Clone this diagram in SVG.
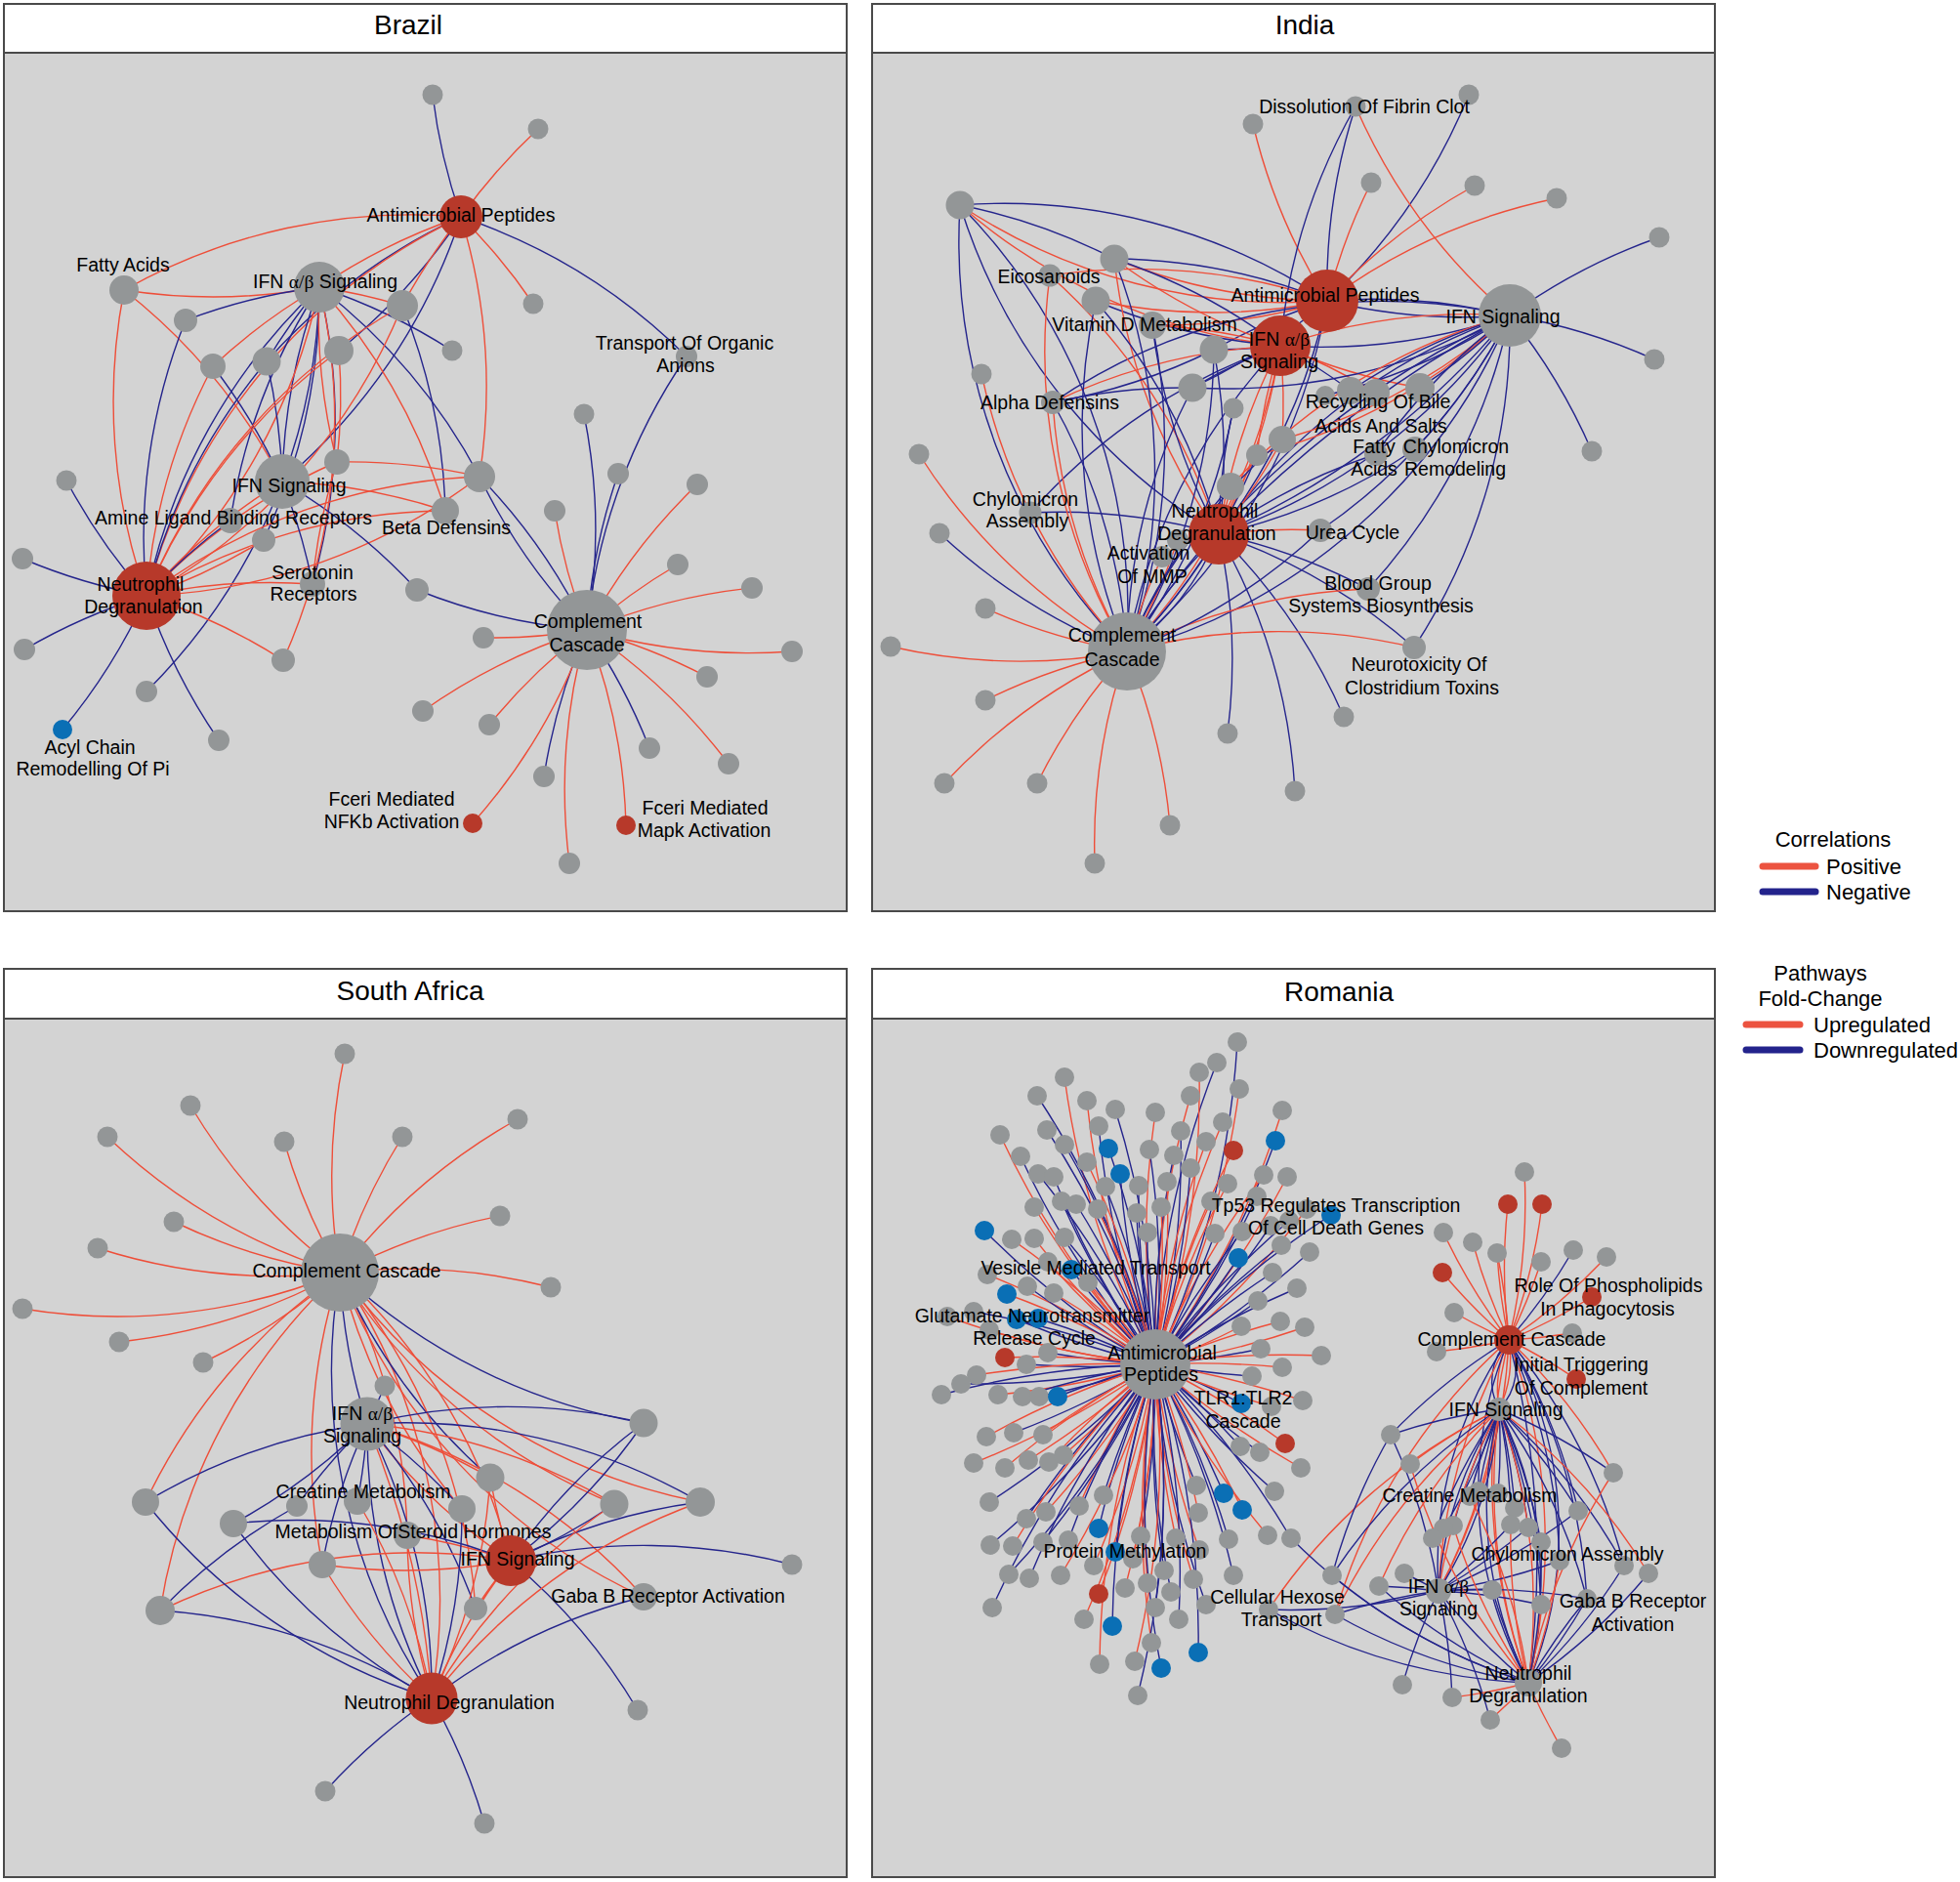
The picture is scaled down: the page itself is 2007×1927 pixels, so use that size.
<svg xmlns="http://www.w3.org/2000/svg" width="2007" height="1927" viewBox="0 0 2007 1927">
<defs>
<style>
.frame{fill:#d3d3d3;stroke:#4a4a4a;stroke-width:2}
.head{fill:#ffffff;stroke:#4a4a4a;stroke-width:2}
.t{font-family:"Liberation Sans",Arial,sans-serif;font-size:28px;text-anchor:middle;fill:#000}
.l{font-family:"Liberation Sans",Arial,sans-serif;font-size:19.5px;text-anchor:middle;fill:#000}
.gk{font-family:"Liberation Serif","Times New Roman",serif}
.lg{font-family:"Liberation Sans",Arial,sans-serif;font-size:22px;fill:#000}
.g{fill:#939697}
.r{fill:#b7392a}
.b{fill:#0a6fb5}
.p{fill:none;stroke:#ee4e39;stroke-width:1.4}
.n{fill:none;stroke:#25258c;stroke-width:1.4}
.lp{stroke:#ec5340;stroke-width:7;stroke-linecap:round}
.ln{stroke:#23238c;stroke-width:7;stroke-linecap:round}
</style>
</defs>
<rect width="2007" height="1927" fill="#ffffff"/>
<g id="panels">
<rect class="frame" x="4" y="54" width="863" height="879"/>
<rect class="head" x="4" y="4" width="863" height="50"/>
<text class="t" x="418" y="35">Brazil</text>
<rect class="frame" x="893" y="54" width="863" height="879"/>
<rect class="head" x="893" y="4" width="863" height="50"/>
<text class="t" x="1336" y="35">India</text>
<rect class="frame" x="4" y="1043" width="863" height="879"/>
<rect class="head" x="4" y="992" width="863" height="51"/>
<text class="t" x="420" y="1024">South Africa</text>
<rect class="frame" x="893" y="1043" width="863" height="879"/>
<rect class="head" x="893" y="992" width="863" height="51"/>
<text class="t" x="1371" y="1025">Romania</text>
</g>
<g id="connectors">
<g id="brazil-edges">
<path class="n" d="M472 222A600 600 0 0 1 443 97"/>
<path class="p" d="M472 222A600 600 0 0 1 551 132"/>
<path class="p" d="M472 222A600 600 0 0 1 546 311"/>
<path class="n" d="M472 222A600 600 0 0 1 703 365"/>
<path class="p" d="M472 222A600 600 0 0 1 491 488"/>
<path class="p" d="M472 222A600 600 0 0 0 327 294"/>
<path class="n" d="M472 222A600 600 0 0 0 273 370"/>
<path class="n" d="M472 222A600 600 0 0 1 347 359"/>
<path class="p" d="M472 222A600 600 0 0 0 412 313"/>
<path class="p" d="M472 222A600 600 0 0 0 150 610"/>
<path class="n" d="M472 222A600 600 0 0 1 289 493"/>
<path class="p" d="M127 297A600 600 0 0 1 472 222"/>
<path class="p" d="M127 297A600 600 0 0 0 327 294"/>
<path class="p" d="M127 297A600 600 0 0 0 150 610"/>
<path class="p" d="M127 297A600 600 0 0 1 289 493"/>
<path class="n" d="M327 294A600 600 0 0 0 190 328"/>
<path class="p" d="M327 294A600 600 0 0 1 412 313"/>
<path class="n" d="M327 294A600 600 0 0 1 463 359"/>
<path class="p" d="M327 294A600 600 0 0 0 218 375"/>
<path class="n" d="M327 294A600 600 0 0 0 273 370"/>
<path class="n" d="M327 294A600 600 0 0 0 289 493"/>
<path class="n" d="M327 294A600 600 0 0 1 289 493"/>
<path class="n" d="M327 294A600 600 0 0 0 150 610"/>
<path class="p" d="M327 294A600 600 0 0 1 150 610"/>
<path class="n" d="M327 294A600 600 0 0 0 236 533"/>
<path class="n" d="M327 294A600 600 0 0 1 270 553"/>
<path class="n" d="M327 294A600 600 0 0 1 320 598"/>
<path class="n" d="M327 294A600 600 0 0 1 491 488"/>
<path class="p" d="M327 294A600 600 0 0 1 456 523"/>
<path class="p" d="M327 294A600 600 0 0 1 290 676"/>
<path class="p" d="M327 294A600 600 0 0 0 345 473"/>
<path class="n" d="M190 328A600 600 0 0 0 150 610"/>
<path class="p" d="M218 375A600 600 0 0 0 150 610"/>
<path class="n" d="M218 375A600 600 0 0 1 289 493"/>
<path class="n" d="M273 370A600 600 0 0 0 150 610"/>
<path class="n" d="M273 370A600 600 0 0 1 289 493"/>
<path class="p" d="M347 359A600 600 0 0 0 150 610"/>
<path class="p" d="M347 359A600 600 0 0 1 345 473"/>
<path class="p" d="M412 313A600 600 0 0 0 150 610"/>
<path class="p" d="M412 313A600 600 0 0 1 150 610"/>
<path class="n" d="M412 313A600 600 0 0 1 456 523"/>
<path class="n" d="M68 492A600 600 0 0 0 150 610"/>
<path class="n" d="M23 572A600 600 0 0 0 150 610"/>
<path class="n" d="M25 665A600 600 0 0 1 150 610"/>
<path class="n" d="M64 747A600 600 0 0 0 150 610"/>
<path class="n" d="M224 758A600 600 0 0 1 150 610"/>
<path class="n" d="M150 708A600 600 0 0 0 289 493"/>
<path class="p" d="M290 676A600 600 0 0 0 150 610"/>
<path class="p" d="M150 610A600 600 0 0 1 320 598"/>
<path class="p" d="M150 610A600 600 0 0 1 456 523"/>
<path class="p" d="M150 610A600 600 0 0 1 491 488"/>
<path class="p" d="M150 610A600 600 0 0 0 491 488"/>
<path class="p" d="M150 610A600 600 0 0 1 345 473"/>
<path class="p" d="M150 610A600 600 0 0 1 289 493"/>
<path class="p" d="M150 610A600 600 0 0 0 270 553"/>
<path class="n" d="M150 610A600 600 0 0 1 236 533"/>
<path class="n" d="M427 604A600 600 0 0 0 289 493"/>
<path class="n" d="M427 604A600 600 0 0 0 601 645"/>
<path class="p" d="M345 473A600 600 0 0 1 491 488"/>
<path class="n" d="M491 488A600 600 0 0 1 601 645"/>
<path class="n" d="M491 488A600 600 0 0 0 601 645"/>
<path class="p" d="M456 523A600 600 0 0 0 289 493"/>
<path class="n" d="M633 485A600 600 0 0 0 601 645"/>
<path class="p" d="M568 523A600 600 0 0 0 601 645"/>
<path class="p" d="M694 578A600 600 0 0 0 601 645"/>
<path class="p" d="M714 496A600 600 0 0 0 601 645"/>
<path class="n" d="M703 365A600 600 0 0 0 601 645"/>
<path class="n" d="M598 424A600 600 0 0 1 601 645"/>
<path class="p" d="M770 602A600 600 0 0 0 601 645"/>
<path class="p" d="M811 667A600 600 0 0 1 601 645"/>
<path class="p" d="M724 693A600 600 0 0 0 601 645"/>
<path class="p" d="M746 782A600 600 0 0 0 601 645"/>
<path class="n" d="M665 766A600 600 0 0 0 601 645"/>
<path class="n" d="M557 795A600 600 0 0 1 601 645"/>
<path class="p" d="M583 884A600 600 0 0 1 601 645"/>
<path class="p" d="M641 845A600 600 0 0 0 601 645"/>
<path class="p" d="M484 843A600 600 0 0 0 601 645"/>
<path class="p" d="M501 742A600 600 0 0 1 601 645"/>
<path class="p" d="M433 728A600 600 0 0 1 601 645"/>
<path class="p" d="M495 653A600 600 0 0 0 601 645"/>
<path class="n" d="M289 493A600 600 0 0 1 320 598"/>
<path class="p" d="M345 473A600 600 0 0 0 320 598"/>
</g>
<g id="india-edges">
<path class="p" d="M1359 308A600 600 0 0 1 1283 127"/>
<path class="n" d="M1359 308A600 600 0 0 1 1388 109"/>
<path class="n" d="M1359 308A600 600 0 0 0 1504 97"/>
<path class="p" d="M1359 308A600 600 0 0 1 1404 187"/>
<path class="p" d="M1359 308A600 600 0 0 1 1510 190"/>
<path class="p" d="M1359 308A600 600 0 0 1 1594 203"/>
<path class="n" d="M1359 308A600 600 0 0 0 983 210"/>
<path class="p" d="M1359 308A600 600 0 0 1 983 210"/>
<path class="n" d="M1359 308A600 600 0 0 0 1141 265"/>
<path class="p" d="M1359 308A600 600 0 0 1 1141 265"/>
<path class="p" d="M1359 308A600 600 0 0 1 1122 308"/>
<path class="p" d="M1359 308A600 600 0 0 0 1075 282"/>
<path class="p" d="M1359 308A600 600 0 0 1 1180 333"/>
<path class="n" d="M1359 308A600 600 0 0 0 1546 323"/>
<path class="n" d="M1359 308A600 600 0 0 1 1546 323"/>
<path class="n" d="M1359 308A600 600 0 0 1 1248 547"/>
<path class="n" d="M1359 308A600 600 0 0 1 1154 667"/>
<path class="n" d="M1359 308A600 600 0 0 1 1221 397"/>
<path class="n" d="M1359 308A600 600 0 0 0 1243 358"/>
<path class="n" d="M1311 354A600 600 0 0 1 1388 109"/>
<path class="p" d="M1311 354A600 600 0 0 1 983 210"/>
<path class="n" d="M1311 354A600 600 0 0 0 1141 265"/>
<path class="p" d="M1311 354A600 600 0 0 1 1141 265"/>
<path class="n" d="M1311 354A600 600 0 0 1 1122 308"/>
<path class="p" d="M1311 354A600 600 0 0 0 1180 333"/>
<path class="n" d="M1311 354A600 600 0 0 1 1243 358"/>
<path class="n" d="M1311 354A600 600 0 0 0 1221 397"/>
<path class="p" d="M1311 354A600 600 0 0 0 1078 412"/>
<path class="n" d="M1311 354A600 600 0 0 0 1546 323"/>
<path class="p" d="M1311 354A600 600 0 0 1 1546 323"/>
<path class="p" d="M1311 354A600 600 0 0 0 1248 547"/>
<path class="p" d="M1311 354A600 600 0 0 1 1248 547"/>
<path class="n" d="M1311 354A600 600 0 0 0 1154 667"/>
<path class="p" d="M1311 354A600 600 0 0 1 1154 667"/>
<path class="n" d="M1311 354A600 600 0 0 1 1383 400"/>
<path class="p" d="M1311 354A600 600 0 0 1 1409 402"/>
<path class="p" d="M1311 354A600 600 0 0 0 1454 397"/>
<path class="p" d="M1311 354A600 600 0 0 1 1313 450"/>
<path class="p" d="M1311 354A600 600 0 0 0 1287 466"/>
<path class="n" d="M1311 354A600 600 0 0 0 1055 525"/>
<path class="n" d="M1546 323A600 600 0 0 1 1699 243"/>
<path class="n" d="M1546 323A600 600 0 0 1 1694 368"/>
<path class="n" d="M1546 323A600 600 0 0 1 1630 462"/>
<path class="p" d="M1546 323A600 600 0 0 1 1388 109"/>
<path class="n" d="M1546 323A600 600 0 0 1 1448 663"/>
<path class="n" d="M1546 323A600 600 0 0 1 1401 603"/>
<path class="n" d="M1546 323A600 600 0 0 1 1248 547"/>
<path class="n" d="M1546 323A600 600 0 0 0 1248 547"/>
<path class="n" d="M1546 323A800 800 0 0 1 1248 547"/>
<path class="n" d="M1546 323A1200 1200 0 0 0 1248 547"/>
<path class="n" d="M1546 323A600 600 0 0 1 1154 667"/>
<path class="n" d="M1546 323A900 900 0 0 0 1154 667"/>
<path class="n" d="M1546 323A600 600 0 0 0 1078 412"/>
<path class="n" d="M1546 323A600 600 0 0 1 1221 397"/>
<path class="p" d="M1546 323A600 600 0 0 1 1313 450"/>
<path class="p" d="M1546 323A600 600 0 0 1 1287 466"/>
<path class="p" d="M1546 323A600 600 0 0 0 1260 498"/>
<path class="n" d="M1546 323A600 600 0 0 1 1449 460"/>
<path class="n" d="M1546 323A600 600 0 0 0 1409 465"/>
<path class="n" d="M1546 323A600 600 0 0 1 1454 397"/>
<path class="n" d="M1546 323A600 600 0 0 0 1383 400"/>
<path class="n" d="M1546 323A600 600 0 0 1 1352 543"/>
<path class="n" d="M1546 323A600 600 0 0 1 1357 405"/>
<path class="n" d="M1248 547A600 600 0 0 1 1257 751"/>
<path class="n" d="M1248 547A600 600 0 0 1 1326 810"/>
<path class="n" d="M1248 547A600 600 0 0 1 1376 734"/>
<path class="n" d="M1248 547A600 600 0 0 1 1401 603"/>
<path class="n" d="M1248 547A600 600 0 0 1 1448 663"/>
<path class="p" d="M1248 547A600 600 0 0 1 1352 543"/>
<path class="n" d="M1248 547A600 600 0 0 0 1055 525"/>
<path class="p" d="M1248 547A600 600 0 0 1 1141 265"/>
<path class="n" d="M1248 547A600 600 0 0 1 983 210"/>
<path class="n" d="M1248 547A600 600 0 0 0 1122 308"/>
<path class="p" d="M1248 547A600 600 0 0 0 1075 282"/>
<path class="n" d="M1248 547A600 600 0 0 1 1180 333"/>
<path class="n" d="M1248 547A600 600 0 0 0 1243 358"/>
<path class="n" d="M1248 547A600 600 0 0 1 1263 418"/>
<path class="p" d="M1248 547A600 600 0 0 0 1313 450"/>
<path class="p" d="M1248 547A600 600 0 0 1 1287 466"/>
<path class="p" d="M1248 547A600 600 0 0 0 1260 498"/>
<path class="n" d="M1248 547A600 600 0 0 0 1449 460"/>
<path class="n" d="M1248 547A600 600 0 0 1 1409 465"/>
<path class="n" d="M1248 547A600 600 0 0 1 1154 667"/>
<path class="n" d="M1248 547A600 600 0 0 0 1154 667"/>
<path class="n" d="M1248 547A300 300 0 0 1 1154 667"/>
<path class="p" d="M1154 667A600 600 0 0 1 912 662"/>
<path class="p" d="M1154 667A600 600 0 0 1 1009 623"/>
<path class="p" d="M1154 667A600 600 0 0 0 1009 717"/>
<path class="p" d="M1154 667A600 600 0 0 0 967 802"/>
<path class="p" d="M1154 667A600 600 0 0 0 1062 802"/>
<path class="p" d="M1154 667A600 600 0 0 0 1121 884"/>
<path class="p" d="M1154 667A600 600 0 0 1 1198 845"/>
<path class="p" d="M1154 667A600 600 0 0 1 941 465"/>
<path class="p" d="M1154 667A600 600 0 0 1 1448 663"/>
<path class="p" d="M1154 667A600 600 0 0 1 1401 603"/>
<path class="n" d="M1154 667A600 600 0 0 1 962 546"/>
<path class="n" d="M1154 667A600 600 0 0 1 983 210"/>
<path class="n" d="M1154 667A600 600 0 0 0 983 210"/>
<path class="n" d="M1154 667A600 600 0 0 0 1141 265"/>
<path class="n" d="M1154 667A600 600 0 0 1 1122 308"/>
<path class="p" d="M1154 667A600 600 0 0 1 1075 282"/>
<path class="p" d="M1154 667A600 600 0 0 1 1005 383"/>
<path class="p" d="M1154 667A600 600 0 0 1 1078 412"/>
<path class="n" d="M1154 667A600 600 0 0 0 1078 412"/>
<path class="n" d="M1154 667A600 600 0 0 0 1180 333"/>
<path class="n" d="M1154 667A600 600 0 0 0 1243 358"/>
<path class="n" d="M1154 667A600 600 0 0 1 1221 397"/>
<path class="n" d="M1154 667A600 600 0 0 0 1263 418"/>
<path class="n" d="M1154 667A600 600 0 0 0 1352 543"/>
<path class="p" d="M1154 667A600 600 0 0 1 1190 570"/>
<path class="p" d="M1154 667A600 600 0 0 0 1206 553"/>
<path class="n" d="M1154 667A600 600 0 0 1 1260 498"/>
<path class="n" d="M1154 667A600 600 0 0 0 1287 466"/>
<path class="n" d="M1154 667A600 600 0 0 1 1313 450"/>
<path class="n" d="M1078 412A600 600 0 0 1 1221 397"/>
<path class="n" d="M1078 412A600 600 0 0 0 1243 358"/>
<path class="n" d="M983 210A600 600 0 0 1 1141 265"/>
</g>
<g id="southafrica-edges">
<path class="p" d="M348 1303A600 600 0 0 1 353 1079"/>
<path class="p" d="M348 1303A600 600 0 0 1 195 1132"/>
<path class="p" d="M348 1303A600 600 0 0 1 110 1164"/>
<path class="p" d="M348 1303A600 600 0 0 1 291 1169"/>
<path class="p" d="M348 1303A600 600 0 0 1 412 1164"/>
<path class="p" d="M348 1303A600 600 0 0 1 530 1146"/>
<path class="p" d="M348 1303A600 600 0 0 1 178 1251"/>
<path class="p" d="M348 1303A600 600 0 0 1 512 1245"/>
<path class="p" d="M348 1303A600 600 0 0 1 100 1278"/>
<path class="p" d="M348 1303A600 600 0 0 1 564 1318"/>
<path class="p" d="M348 1303A600 600 0 0 1 23 1340"/>
<path class="p" d="M348 1303A600 600 0 0 1 122 1374"/>
<path class="p" d="M348 1303A600 600 0 0 1 208 1395"/>
<path class="p" d="M348 1303A600 600 0 0 0 149 1538"/>
<path class="p" d="M348 1303A600 600 0 0 0 164 1649"/>
<path class="n" d="M348 1303A600 600 0 0 0 376 1458"/>
<path class="p" d="M348 1303A600 600 0 0 1 442 1739"/>
<path class="n" d="M348 1303A600 600 0 0 0 442 1739"/>
<path class="p" d="M348 1303A600 600 0 0 0 330 1602"/>
<path class="p" d="M348 1303A600 600 0 0 0 473 1545"/>
<path class="p" d="M348 1303A600 600 0 0 1 417 1572"/>
<path class="n" d="M348 1303A600 600 0 0 0 502 1513"/>
<path class="p" d="M348 1303A600 600 0 0 0 629 1540"/>
<path class="p" d="M348 1303A600 600 0 0 0 659 1635"/>
<path class="p" d="M348 1303A600 600 0 0 0 717 1538"/>
<path class="n" d="M348 1303A600 600 0 0 0 659 1457"/>
<path class="p" d="M348 1303A600 600 0 0 1 523 1598"/>
<path class="p" d="M348 1303A600 600 0 0 1 487 1647"/>
<path class="n" d="M376 1458A600 600 0 0 0 394 1419"/>
<path class="n" d="M376 1458A600 600 0 0 0 149 1538"/>
<path class="n" d="M376 1458A600 600 0 0 1 239 1560"/>
<path class="n" d="M376 1458A600 600 0 0 0 304 1542"/>
<path class="n" d="M376 1458A600 600 0 0 1 366 1537"/>
<path class="n" d="M376 1458A600 600 0 0 1 659 1457"/>
<path class="n" d="M376 1458A600 600 0 0 1 717 1538"/>
<path class="p" d="M376 1458A600 600 0 0 1 629 1540"/>
<path class="p" d="M376 1458A600 600 0 0 1 502 1513"/>
<path class="p" d="M376 1458A600 600 0 0 0 523 1598"/>
<path class="p" d="M376 1458A600 600 0 0 1 659 1635"/>
<path class="n" d="M376 1458A600 600 0 0 1 442 1739"/>
<path class="n" d="M376 1458A600 600 0 0 0 442 1739"/>
<path class="p" d="M376 1458A900 900 0 0 1 442 1739"/>
<path class="n" d="M376 1458A600 600 0 0 1 487 1647"/>
<path class="n" d="M376 1458A600 600 0 0 1 473 1545"/>
<path class="n" d="M376 1458A600 600 0 0 0 330 1602"/>
<path class="n" d="M523 1598A600 600 0 0 1 659 1457"/>
<path class="n" d="M523 1598A600 600 0 0 0 659 1457"/>
<path class="n" d="M523 1598A600 600 0 0 1 717 1538"/>
<path class="n" d="M523 1598A600 600 0 0 0 629 1540"/>
<path class="n" d="M523 1598A600 600 0 0 1 811 1602"/>
<path class="n" d="M523 1598A600 600 0 0 1 653 1751"/>
<path class="p" d="M523 1598A600 600 0 0 0 487 1647"/>
<path class="p" d="M523 1598A600 600 0 0 0 442 1739"/>
<path class="p" d="M523 1598A600 600 0 0 0 417 1572"/>
<path class="p" d="M523 1598A600 600 0 0 1 502 1513"/>
<path class="p" d="M523 1598A600 600 0 0 0 164 1649"/>
<path class="n" d="M523 1598A600 600 0 0 0 239 1560"/>
<path class="p" d="M523 1598A600 600 0 0 1 330 1602"/>
<path class="n" d="M442 1739A600 600 0 0 1 659 1635"/>
<path class="n" d="M442 1739A600 600 0 0 0 333 1834"/>
<path class="n" d="M442 1739A600 600 0 0 1 496 1867"/>
<path class="p" d="M442 1739A600 600 0 0 1 717 1538"/>
<path class="p" d="M442 1739A600 600 0 0 1 629 1540"/>
<path class="p" d="M442 1739A600 600 0 0 0 502 1513"/>
<path class="n" d="M442 1739A600 600 0 0 0 473 1545"/>
<path class="p" d="M442 1739A600 600 0 0 1 417 1572"/>
<path class="p" d="M442 1739A600 600 0 0 0 366 1537"/>
<path class="p" d="M442 1739A600 600 0 0 1 330 1602"/>
<path class="n" d="M442 1739A600 600 0 0 0 164 1649"/>
<path class="n" d="M442 1739A600 600 0 0 1 149 1538"/>
<path class="n" d="M442 1739A600 600 0 0 1 239 1560"/>
<path class="n" d="M164 1649A600 600 0 0 1 304 1542"/>
</g>
<g id="romania-edges">
<path class="n" d="M1183 1397A900 900 0 0 0 1267 1067"/>
<path class="n" d="M1183 1397A900 900 0 0 1 1246 1088"/>
<path class="p" d="M1183 1397A900 900 0 0 0 1228 1098"/>
<path class="p" d="M1183 1397A900 900 0 0 1 1090 1103"/>
<path class="n" d="M1183 1397A900 900 0 0 0 1062 1122"/>
<path class="p" d="M1183 1397A900 900 0 0 1 1219 1122"/>
<path class="p" d="M1183 1397A900 900 0 0 0 1269 1115"/>
<path class="p" d="M1183 1397A900 900 0 0 1 1113 1127"/>
<path class="n" d="M1183 1397A900 900 0 0 0 1142 1136"/>
<path class="p" d="M1183 1397A900 900 0 0 1 1183 1139"/>
<path class="p" d="M1183 1397A900 900 0 0 0 1313 1137"/>
<path class="p" d="M1183 1397A900 900 0 0 1 1024 1162"/>
<path class="n" d="M1183 1397A900 900 0 0 0 1072 1157"/>
<path class="n" d="M1183 1397A900 900 0 0 1 1125 1153"/>
<path class="n" d="M1183 1397A900 900 0 0 0 1209 1158"/>
<path class="p" d="M1183 1397A900 900 0 0 1 1252 1149"/>
<path class="n" d="M1183 1397A900 900 0 0 0 1090 1172"/>
<path class="p" d="M1183 1397A900 900 0 0 1 1235 1169"/>
<path class="n" d="M1183 1397A900 900 0 0 0 1306 1168"/>
<path class="p" d="M1183 1397A900 900 0 0 1 1263 1178"/>
<path class="n" d="M1183 1397A900 900 0 0 0 1135 1176"/>
<path class="n" d="M1183 1397A900 900 0 0 1 1045 1184"/>
<path class="n" d="M1183 1397A900 900 0 0 0 1177 1177"/>
<path class="n" d="M1183 1397A900 900 0 0 1 1202 1183"/>
<path class="p" d="M1183 1397A900 900 0 0 0 1113 1190"/>
<path class="n" d="M1183 1397A900 900 0 0 1 1147 1202"/>
<path class="n" d="M1183 1397A900 900 0 0 0 1063 1202"/>
<path class="n" d="M1183 1397A900 900 0 0 1 1079 1205"/>
<path class="n" d="M1183 1397A900 900 0 0 0 1219 1196"/>
<path class="p" d="M1183 1397A900 900 0 0 1 1294 1203"/>
<path class="p" d="M1183 1397A900 900 0 0 0 1318 1205"/>
<path class="p" d="M1183 1397A900 900 0 0 1 1257 1212"/>
<path class="n" d="M1183 1397A900 900 0 0 0 1132 1215"/>
<path class="n" d="M1183 1397A900 900 0 0 1 1166 1214"/>
<path class="p" d="M1183 1397A900 900 0 0 0 1195 1210"/>
<path class="n" d="M1183 1397A900 900 0 0 1 1087 1230"/>
<path class="n" d="M1183 1397A900 900 0 0 0 1102 1233"/>
<path class="p" d="M1183 1397A900 900 0 0 1 1059 1236"/>
<path class="p" d="M1183 1397A900 900 0 0 0 1124 1238"/>
<path class="n" d="M1183 1397A900 900 0 0 1 1164 1242"/>
<path class="p" d="M1183 1397A900 900 0 0 0 1189 1236"/>
<path class="p" d="M1183 1397A900 900 0 0 1 1240 1230"/>
<path class="n" d="M1183 1397A900 900 0 0 0 1287 1225"/>
<path class="n" d="M1183 1397A900 900 0 0 1 1008 1260"/>
<path class="p" d="M1183 1397A900 900 0 0 0 1036 1269"/>
<path class="p" d="M1183 1397A900 900 0 0 1 1059 1268"/>
<path class="n" d="M1183 1397A900 900 0 0 0 1090 1267"/>
<path class="n" d="M1183 1397A900 900 0 0 1 1175 1262"/>
<path class="n" d="M1183 1397A900 900 0 0 0 1244 1263"/>
<path class="n" d="M1183 1397A900 900 0 0 1 1272 1261"/>
<path class="n" d="M1183 1397A900 900 0 0 0 1301 1255"/>
<path class="n" d="M1183 1397A900 900 0 0 1 1320 1250"/>
<path class="p" d="M1183 1397A900 900 0 0 0 1338 1238"/>
<path class="n" d="M1183 1397A900 900 0 0 1 1363 1244"/>
<path class="n" d="M1183 1397A900 900 0 0 0 1268 1288"/>
<path class="n" d="M1183 1397A900 900 0 0 1 1312 1275"/>
<path class="n" d="M1183 1397A900 900 0 0 0 1341 1282"/>
<path class="p" d="M1183 1397A900 900 0 0 1 1073 1292"/>
<path class="p" d="M1183 1397A900 900 0 0 0 1011 1305"/>
<path class="n" d="M1183 1397A900 900 0 0 1 1097 1300"/>
<path class="p" d="M1183 1397A900 900 0 0 0 1114 1313"/>
<path class="n" d="M1183 1397A900 900 0 0 1 1303 1303"/>
<path class="p" d="M1183 1397A900 900 0 0 0 1031 1325"/>
<path class="n" d="M1183 1397A900 900 0 0 1 1052 1317"/>
<path class="p" d="M1183 1397A900 900 0 0 0 1079 1324"/>
<path class="n" d="M1183 1397A900 900 0 0 1 1328 1319"/>
<path class="n" d="M1183 1397A900 900 0 0 0 1288 1332"/>
<path class="p" d="M1183 1397A900 900 0 0 1 970 1348"/>
<path class="n" d="M1183 1397A900 900 0 0 0 997 1343"/>
<path class="n" d="M1183 1397A900 900 0 0 1 1041 1351"/>
<path class="n" d="M1183 1397A900 900 0 0 0 1063 1350"/>
<path class="p" d="M1183 1397A900 900 0 0 1 1013 1362"/>
<path class="p" d="M1183 1397A900 900 0 0 0 1271 1358"/>
<path class="p" d="M1183 1397A900 900 0 0 1 1311 1353"/>
<path class="p" d="M1183 1397A900 900 0 0 0 1336 1359"/>
<path class="n" d="M1183 1397A900 900 0 0 1 1073 1385"/>
<path class="p" d="M1183 1397A900 900 0 0 0 1029 1390"/>
<path class="n" d="M1183 1397A900 900 0 0 1 1051 1397"/>
<path class="n" d="M1183 1397A900 900 0 0 0 1291 1381"/>
<path class="p" d="M1183 1397A900 900 0 0 1 1313 1400"/>
<path class="n" d="M1183 1397A900 900 0 0 0 1282 1409"/>
<path class="p" d="M1183 1397A900 900 0 0 1 1353 1388"/>
<path class="p" d="M1183 1397A900 900 0 0 0 1000 1408"/>
<path class="n" d="M1183 1397A900 900 0 0 1 984 1417"/>
<path class="n" d="M1183 1397A900 900 0 0 0 964 1428"/>
<path class="p" d="M1183 1397A900 900 0 0 1 1022 1428"/>
<path class="n" d="M1183 1397A900 900 0 0 0 1047 1430"/>
<path class="n" d="M1183 1397A900 900 0 0 1 1064 1430"/>
<path class="n" d="M1183 1397A900 900 0 0 0 1083 1430"/>
<path class="n" d="M1183 1397A900 900 0 0 1 1271 1437"/>
<path class="p" d="M1183 1397A900 900 0 0 0 1302 1440"/>
<path class="p" d="M1183 1397A900 900 0 0 1 1334 1434"/>
<path class="p" d="M1183 1397A900 900 0 0 0 1010 1471"/>
<path class="n" d="M1183 1397A900 900 0 0 1 1038 1467"/>
<path class="p" d="M1183 1397A900 900 0 0 0 1068 1469"/>
<path class="n" d="M1183 1397A900 900 0 0 1 1270 1481"/>
<path class="n" d="M1183 1397A900 900 0 0 0 1290 1487"/>
<path class="p" d="M1183 1397A900 900 0 0 1 1316 1478"/>
<path class="p" d="M1183 1397A900 900 0 0 0 1332 1503"/>
<path class="p" d="M1183 1397A900 900 0 0 1 997 1498"/>
<path class="p" d="M1183 1397A900 900 0 0 0 1029 1503"/>
<path class="p" d="M1183 1397A900 900 0 0 1 1053 1495"/>
<path class="p" d="M1183 1397A900 900 0 0 0 1074 1497"/>
<path class="p" d="M1183 1397A900 900 0 0 1 1089 1490"/>
<path class="n" d="M1183 1397A900 900 0 0 0 1225 1521"/>
<path class="n" d="M1183 1397A900 900 0 0 1 1253 1529"/>
<path class="n" d="M1183 1397A900 900 0 0 0 1130 1531"/>
<path class="p" d="M1183 1397A900 900 0 0 1 1272 1546"/>
<path class="n" d="M1183 1397A900 900 0 0 0 1305 1527"/>
<path class="n" d="M1183 1397A900 900 0 0 1 1013 1538"/>
<path class="p" d="M1183 1397A900 900 0 0 0 1105 1542"/>
<path class="p" d="M1183 1397A900 900 0 0 1 1071 1548"/>
<path class="n" d="M1183 1397A900 900 0 0 0 1051 1555"/>
<path class="p" d="M1183 1397A900 900 0 0 1 1227 1549"/>
<path class="n" d="M1183 1397A900 900 0 0 0 1125 1565"/>
<path class="n" d="M1183 1397A900 900 0 0 1 1014 1582"/>
<path class="p" d="M1183 1397A900 900 0 0 0 1037 1583"/>
<path class="n" d="M1183 1397A900 900 0 0 1 1068 1579"/>
<path class="n" d="M1183 1397A900 900 0 0 0 1094 1577"/>
<path class="n" d="M1183 1397A900 900 0 0 1 1168 1573"/>
<path class="p" d="M1183 1397A900 900 0 0 0 1204 1575"/>
<path class="n" d="M1183 1397A900 900 0 0 1 1258 1576"/>
<path class="p" d="M1183 1397A900 900 0 0 0 1298 1572"/>
<path class="n" d="M1183 1397A900 900 0 0 1 1322 1575"/>
<path class="n" d="M1183 1397A900 900 0 0 0 1142 1589"/>
<path class="p" d="M1183 1397A900 900 0 0 1 1160 1596"/>
<path class="p" d="M1183 1397A900 900 0 0 0 1228 1587"/>
<path class="p" d="M1183 1397A900 900 0 0 1 1120 1603"/>
<path class="n" d="M1183 1397A900 900 0 0 0 1192 1608"/>
<path class="n" d="M1183 1397A900 900 0 0 1 1033 1612"/>
<path class="n" d="M1183 1397A900 900 0 0 0 1054 1616"/>
<path class="p" d="M1183 1397A900 900 0 0 1 1086 1613"/>
<path class="p" d="M1183 1397A900 900 0 0 0 1222 1617"/>
<path class="n" d="M1183 1397A900 900 0 0 1 1263 1613"/>
<path class="p" d="M1183 1397A900 900 0 0 0 1175 1621"/>
<path class="p" d="M1183 1397A900 900 0 0 1 1152 1626"/>
<path class="n" d="M1183 1397A900 900 0 0 0 1199 1630"/>
<path class="p" d="M1183 1397A900 900 0 0 1 1125 1632"/>
<path class="n" d="M1183 1397A900 900 0 0 0 1235 1643"/>
<path class="n" d="M1183 1397A900 900 0 0 1 1183 1646"/>
<path class="n" d="M1183 1397A900 900 0 0 0 1016 1646"/>
<path class="p" d="M1183 1397A900 900 0 0 1 1110 1658"/>
<path class="n" d="M1183 1397A900 900 0 0 0 1139 1665"/>
<path class="n" d="M1183 1397A900 900 0 0 1 1207 1658"/>
<path class="p" d="M1183 1397A900 900 0 0 0 1179 1682"/>
<path class="n" d="M1183 1397A900 900 0 0 1 1227 1692"/>
<path class="p" d="M1183 1397A900 900 0 0 0 1126 1704"/>
<path class="p" d="M1183 1397A900 900 0 0 1 1162 1701"/>
<path class="n" d="M1183 1397A900 900 0 0 0 1189 1708"/>
<path class="n" d="M1183 1397A900 900 0 0 1 1165 1736"/>
<path class="p" d="M1545 1372A600 600 0 0 0 1561 1200"/>
<path class="p" d="M1545 1372A600 600 0 0 1 1544 1233"/>
<path class="p" d="M1545 1372A600 600 0 0 0 1579 1233"/>
<path class="p" d="M1545 1372A600 600 0 0 1 1478 1262"/>
<path class="p" d="M1545 1372A600 600 0 0 1 1508 1272"/>
<path class="p" d="M1545 1372A600 600 0 0 0 1533 1283"/>
<path class="p" d="M1545 1372A600 600 0 0 1 1533 1283"/>
<path class="p" d="M1545 1372A600 600 0 0 0 1578 1292"/>
<path class="n" d="M1545 1372A600 600 0 0 0 1611 1280"/>
<path class="p" d="M1545 1372A600 600 0 0 0 1645 1287"/>
<path class="p" d="M1545 1372A600 600 0 0 1 1477 1303"/>
<path class="p" d="M1545 1372A600 600 0 0 0 1630 1328"/>
<path class="p" d="M1545 1372A600 600 0 0 1 1489 1344"/>
<path class="p" d="M1545 1372A600 600 0 0 0 1610 1365"/>
<path class="p" d="M1545 1372A600 600 0 0 1 1471 1384"/>
<path class="p" d="M1545 1372A600 600 0 0 1 1614 1412"/>
<path class="n" d="M1545 1372A60 60 0 0 0 1535 1443"/>
<path class="n" d="M1545 1372A60 60 0 0 1 1535 1443"/>
<path class="p" d="M1545 1372A120 120 0 0 0 1535 1443"/>
<path class="p" d="M1545 1372A120 120 0 0 1 1535 1443"/>
<path class="p" d="M1545 1372A600 600 0 0 0 1473 1629"/>
<path class="p" d="M1545 1372A600 600 0 0 1 1473 1629"/>
<path class="n" d="M1545 1372A400 400 0 0 0 1473 1629"/>
<path class="p" d="M1545 1372A600 600 0 0 0 1565 1723"/>
<path class="p" d="M1545 1372A600 600 0 0 1 1565 1723"/>
<path class="n" d="M1545 1372A400 400 0 0 0 1565 1723"/>
<path class="n" d="M1545 1372A400 400 0 0 1 1565 1723"/>
<path class="n" d="M1545 1372A900 900 0 0 1 1565 1723"/>
<path class="p" d="M1545 1372A600 600 0 0 1 1652 1508"/>
<path class="n" d="M1545 1372A600 600 0 0 1 1616 1547"/>
<path class="n" d="M1545 1372A600 600 0 0 1 1597 1598"/>
<path class="n" d="M1545 1372A600 600 0 0 1 1663 1603"/>
<path class="n" d="M1545 1372A600 600 0 0 1 1625 1637"/>
<path class="n" d="M1545 1372A600 600 0 0 0 1424 1469"/>
<path class="p" d="M1545 1372A600 600 0 0 0 1367 1653"/>
<path class="n" d="M1535 1443A600 600 0 0 0 1424 1469"/>
<path class="p" d="M1535 1443A600 600 0 0 0 1444 1499"/>
<path class="n" d="M1535 1443A600 600 0 0 0 1514 1527"/>
<path class="n" d="M1535 1443A600 600 0 0 1 1534 1529"/>
<path class="n" d="M1535 1443A600 600 0 0 0 1505 1532"/>
<path class="n" d="M1535 1443A600 600 0 0 0 1488 1562"/>
<path class="n" d="M1535 1443A600 600 0 0 1 1478 1565"/>
<path class="n" d="M1535 1443A600 600 0 0 0 1467 1575"/>
<path class="n" d="M1535 1443A600 600 0 0 1 1547 1561"/>
<path class="n" d="M1535 1443A600 600 0 0 1 1565 1564"/>
<path class="n" d="M1535 1443A600 600 0 0 1 1578 1579"/>
<path class="n" d="M1535 1443A600 600 0 0 1 1551 1544"/>
<path class="n" d="M1535 1443A600 600 0 0 1 1616 1547"/>
<path class="n" d="M1535 1443A600 600 0 0 1 1652 1508"/>
<path class="p" d="M1535 1443A600 600 0 0 0 1473 1629"/>
<path class="p" d="M1535 1443A600 600 0 0 1 1473 1629"/>
<path class="n" d="M1535 1443A400 400 0 0 0 1473 1629"/>
<path class="n" d="M1535 1443A400 400 0 0 1 1473 1629"/>
<path class="p" d="M1535 1443A600 600 0 0 0 1565 1723"/>
<path class="p" d="M1535 1443A600 600 0 0 1 1565 1723"/>
<path class="n" d="M1535 1443A400 400 0 0 0 1565 1723"/>
<path class="n" d="M1535 1443A400 400 0 0 1 1565 1723"/>
<path class="n" d="M1535 1443A600 600 0 0 1 1663 1603"/>
<path class="p" d="M1535 1443A600 600 0 0 1 1688 1611"/>
<path class="n" d="M1535 1443A600 600 0 0 1 1625 1637"/>
<path class="n" d="M1535 1443A600 600 0 0 1 1578 1643"/>
<path class="p" d="M1535 1443A600 600 0 0 0 1412 1624"/>
<path class="n" d="M1535 1443A600 600 0 0 0 1364 1613"/>
<path class="p" d="M1535 1443A600 600 0 0 0 1299 1648"/>
<path class="p" d="M1535 1443A600 600 0 0 0 1367 1653"/>
<path class="n" d="M1473 1629A600 600 0 0 0 1412 1624"/>
<path class="n" d="M1473 1629A600 600 0 0 0 1438 1611"/>
<path class="n" d="M1473 1629A600 600 0 0 1 1528 1628"/>
<path class="n" d="M1473 1629A600 600 0 0 1 1578 1643"/>
<path class="n" d="M1473 1629A600 600 0 0 0 1597 1598"/>
<path class="n" d="M1473 1629A600 600 0 0 0 1616 1547"/>
<path class="n" d="M1473 1629A600 600 0 0 0 1547 1561"/>
<path class="n" d="M1473 1629A600 600 0 0 0 1565 1564"/>
<path class="n" d="M1473 1629A600 600 0 0 1 1625 1637"/>
<path class="n" d="M1473 1629A600 600 0 0 0 1436 1725"/>
<path class="n" d="M1473 1629A600 600 0 0 1 1487 1738"/>
<path class="n" d="M1473 1629A600 600 0 0 0 1367 1653"/>
<path class="n" d="M1473 1629A600 600 0 0 1 1299 1648"/>
<path class="n" d="M1473 1629A600 600 0 0 0 1424 1469"/>
<path class="n" d="M1473 1629A600 600 0 0 0 1565 1723"/>
<path class="n" d="M1473 1629A600 600 0 0 1 1526 1761"/>
<path class="p" d="M1565 1723A600 600 0 0 0 1599 1790"/>
<path class="p" d="M1565 1723A600 600 0 0 1 1526 1761"/>
<path class="p" d="M1565 1723A600 600 0 0 1 1487 1738"/>
<path class="n" d="M1565 1723A600 600 0 0 0 1625 1637"/>
<path class="n" d="M1565 1723A600 600 0 0 1 1625 1637"/>
<path class="n" d="M1565 1723A600 600 0 0 0 1688 1611"/>
<path class="n" d="M1565 1723A600 600 0 0 0 1663 1603"/>
<path class="p" d="M1565 1723A600 600 0 0 1 1652 1508"/>
<path class="p" d="M1565 1723A600 600 0 0 0 1578 1643"/>
<path class="n" d="M1565 1723A600 600 0 0 1 1528 1628"/>
<path class="p" d="M1565 1723A600 600 0 0 0 1597 1598"/>
<path class="p" d="M1565 1723A600 600 0 0 1 1444 1499"/>
<path class="n" d="M1565 1723A600 600 0 0 1 1412 1624"/>
<path class="n" d="M1565 1723A600 600 0 0 1 1367 1653"/>
<path class="n" d="M1565 1723A600 600 0 0 1 1299 1648"/>
<path class="n" d="M1565 1723A600 600 0 0 1 1322 1575"/>
<path class="n" d="M1565 1723A600 600 0 0 1 1364 1613"/>
<path class="p" d="M1565 1723A600 600 0 0 1 1488 1562"/>
<path class="p" d="M1565 1723A600 600 0 0 0 1505 1532"/>
<path class="n" d="M1565 1723A600 600 0 0 0 1578 1579"/>
<path class="p" d="M1565 1723A600 600 0 0 1 1547 1561"/>
<path class="n" d="M1424 1469A600 600 0 0 0 1364 1613"/>
</g>
</g>
<g id="brazil-nodes">
<g id="br-n1"><circle class="g" cx="443" cy="97" r="10.5"/></g>
<g id="br-n2"><circle class="g" cx="551" cy="132" r="10.5"/></g>
<g id="br-n4"><circle class="g" cx="412" cy="313" r="16"/></g>
<g id="br-n5"><circle class="g" cx="546" cy="311" r="10.5"/></g>
<g id="br-n6"><circle class="g" cx="190" cy="328" r="12"/></g>
<g id="br-n7"><circle class="g" cx="463" cy="359" r="10.5"/></g>
<g id="br-n8"><circle class="g" cx="218" cy="375" r="13"/></g>
<g id="br-n9"><circle class="g" cx="273" cy="370" r="14.5"/></g>
<g id="br-n10"><circle class="g" cx="347" cy="359" r="15"/></g>
<g id="br-n11"><circle class="g" cx="598" cy="424" r="10.5"/></g>
<g id="br-n13"><circle class="g" cx="68" cy="492" r="10.5"/></g>
<g id="br-n14"><circle class="g" cx="345" cy="473" r="13"/></g>
<g id="br-n15"><circle class="g" cx="491" cy="488" r="16"/></g>
<g id="br-n18"><circle class="g" cx="270" cy="553" r="12"/></g>
<g id="br-n19"><circle class="g" cx="633" cy="485" r="11"/></g>
<g id="br-n20"><circle class="g" cx="714" cy="496" r="11"/></g>
<g id="br-n21"><circle class="g" cx="568" cy="523" r="11"/></g>
<g id="br-n22"><circle class="g" cx="23" cy="572" r="11"/></g>
<g id="br-n24"><circle class="g" cx="427" cy="604" r="12"/></g>
<g id="br-n25"><circle class="g" cx="694" cy="578" r="11"/></g>
<g id="br-n26"><circle class="g" cx="770" cy="602" r="11"/></g>
<g id="br-n27"><circle class="g" cx="495" cy="653" r="11"/></g>
<g id="br-n28"><circle class="g" cx="25" cy="665" r="11"/></g>
<g id="br-n29"><circle class="g" cx="290" cy="676" r="12"/></g>
<g id="br-n30"><circle class="g" cx="811" cy="667" r="11"/></g>
<g id="br-n31"><circle class="g" cx="724" cy="693" r="11"/></g>
<g id="br-n32"><circle class="g" cx="150" cy="708" r="11"/></g>
<g id="br-n33"><circle class="g" cx="433" cy="728" r="11"/></g>
<g id="br-n34"><circle class="g" cx="501" cy="742" r="11"/></g>
<g id="br-n35"><circle class="g" cx="224" cy="758" r="11"/></g>
<g id="br-n36"><circle class="g" cx="665" cy="766" r="11"/></g>
<g id="br-n37"><circle class="g" cx="746" cy="782" r="11"/></g>
<g id="br-n38"><circle class="g" cx="557" cy="795" r="11"/></g>
<g id="br-n42"><circle class="g" cx="583" cy="884" r="11"/></g>
<g id="br-fatty"><circle class="g" cx="127" cy="297" r="15"/><text class="l" x="126" y="278">Fatty Acids</text></g>
<g id="br-ifnab"><circle class="g" cx="327" cy="294" r="26"/><text class="l" x="333" y="295">IFN <tspan class="gk">α/β</tspan> Signaling</text></g>
<g id="br-amp"><circle class="r" cx="472" cy="222" r="22"/><text class="l" x="472" y="227">Antimicrobial Peptides</text></g>
<g id="br-transport"><circle class="g" cx="703" cy="365" r="11"/><text class="l" x="701" y="358">Transport Of Organic</text><text class="l" x="702" y="381">Anions</text></g>
<g id="br-ifns"><circle class="g" cx="289" cy="493" r="28"/><text class="l" x="296" y="504">IFN Signaling</text></g>
<g id="br-amine"><circle class="g" cx="236" cy="533" r="13"/><text class="l" x="239" y="537">Amine Ligand Binding Receptors</text></g>
<g id="br-beta"><circle class="g" cx="456" cy="523" r="14"/><text class="l" x="457" y="547">Beta Defensins</text></g>
<g id="br-neut"><circle class="r" cx="150" cy="610" r="35"/><text class="l" x="144" y="605">Neutrophil</text><text class="l" x="147" y="628">Degranulation</text></g>
<g id="br-sero"><circle class="g" cx="320" cy="598" r="13"/><text class="l" x="320" y="593">Serotonin</text><text class="l" x="321" y="615">Receptors</text></g>
<g id="br-comp"><circle class="g" cx="601" cy="645" r="41"/><text class="l" x="602" y="643">Complement</text><text class="l" x="601" y="667">Cascade</text></g>
<g id="br-acyl"><circle class="b" cx="64" cy="747" r="10"/><text class="l" x="92" y="772">Acyl Chain</text><text class="l" x="95" y="794">Remodelling Of Pi</text></g>
<g id="br-nfkb"><circle class="r" cx="484" cy="843" r="10"/><text class="l" x="401" y="825">Fceri Mediated</text><text class="l" x="401" y="848">NFKb Activation</text></g>
<g id="br-mapk"><circle class="r" cx="641" cy="845" r="10"/><text class="l" x="722" y="834">Fceri Mediated</text><text class="l" x="721" y="857">Mapk Activation</text></g>
</g>
<g id="india-nodes">
<g id="in-n1"><circle class="g" cx="1504" cy="97" r="10.5"/></g>
<g id="in-n3"><circle class="g" cx="1283" cy="127" r="10.5"/></g>
<g id="in-n4"><circle class="g" cx="1404" cy="187" r="10.5"/></g>
<g id="in-n5"><circle class="g" cx="1510" cy="190" r="10.5"/></g>
<g id="in-n6"><circle class="g" cx="1594" cy="203" r="10.5"/></g>
<g id="in-n7"><circle class="g" cx="1699" cy="243" r="10.5"/></g>
<g id="in-n8"><circle class="g" cx="983" cy="210" r="14.5"/></g>
<g id="in-n9"><circle class="g" cx="1141" cy="265" r="14.5"/></g>
<g id="in-n11"><circle class="g" cx="1122" cy="308" r="14.5"/></g>
<g id="in-n13"><circle class="g" cx="1243" cy="358" r="14.5"/></g>
<g id="in-n14"><circle class="g" cx="1694" cy="368" r="10.5"/></g>
<g id="in-n15"><circle class="g" cx="1005" cy="383" r="10.5"/></g>
<g id="in-n16"><circle class="g" cx="1221" cy="397" r="14.5"/></g>
<g id="in-n18"><circle class="g" cx="1263" cy="418" r="10.5"/></g>
<g id="in-n19"><circle class="g" cx="1357" cy="405" r="10"/></g>
<g id="in-n20"><circle class="g" cx="1383" cy="400" r="14"/></g>
<g id="in-n22"><circle class="g" cx="1454" cy="397" r="15"/></g>
<g id="in-n23"><circle class="g" cx="1313" cy="450" r="14"/></g>
<g id="in-n26"><circle class="g" cx="1630" cy="462" r="10.5"/></g>
<g id="in-n27"><circle class="g" cx="941" cy="465" r="10.5"/></g>
<g id="in-n28"><circle class="g" cx="1287" cy="466" r="11"/></g>
<g id="in-n29"><circle class="g" cx="1260" cy="498" r="14"/></g>
<g id="in-n31"><circle class="g" cx="962" cy="546" r="10.5"/></g>
<g id="in-n33"><circle class="g" cx="1206" cy="553" r="11"/></g>
<g id="in-n36"><circle class="g" cx="1009" cy="623" r="10.5"/></g>
<g id="in-n37"><circle class="g" cx="912" cy="662" r="10.5"/></g>
<g id="in-n39"><circle class="g" cx="1009" cy="717" r="10.5"/></g>
<g id="in-n40"><circle class="g" cx="1376" cy="734" r="10.5"/></g>
<g id="in-n41"><circle class="g" cx="1257" cy="751" r="10.5"/></g>
<g id="in-n42"><circle class="g" cx="967" cy="802" r="10.5"/></g>
<g id="in-n43"><circle class="g" cx="1062" cy="802" r="10.5"/></g>
<g id="in-n44"><circle class="g" cx="1326" cy="810" r="10.5"/></g>
<g id="in-n45"><circle class="g" cx="1198" cy="845" r="10.5"/></g>
<g id="in-n46"><circle class="g" cx="1121" cy="884" r="10.5"/></g>
<g id="in-fibrin"><circle class="g" cx="1388" cy="109" r="10.5"/><text class="l" x="1397" y="116">Dissolution Of Fibrin Clot</text></g>
<g id="in-eico"><circle class="g" cx="1075" cy="282" r="11.5"/><text class="l" x="1074" y="290">Eicosanoids</text></g>
<g id="in-vitd"><circle class="g" cx="1180" cy="333" r="14"/><text class="l" x="1172" y="339">Vitamin D Metabolism</text></g>
<g id="in-amp"><circle class="r" cx="1359" cy="308" r="32"/><text class="l" x="1357" y="309">Antimicrobial Peptides</text></g>
<g id="in-ifns"><circle class="g" cx="1546" cy="323" r="32"/><text class="l" x="1539" y="331">IFN Signaling</text></g>
<g id="in-ifnab"><circle class="r" cx="1311" cy="354" r="31"/><text class="l" x="1310" y="354">IFN <tspan class="gk">α/β</tspan></text><text class="l" x="1310" y="377">Signaling</text></g>
<g id="in-alpha"><circle class="g" cx="1078" cy="412" r="12"/><text class="l" x="1075" y="419">Alpha Defensins</text></g>
<g id="in-bile"><circle class="g" cx="1409" cy="402" r="14"/><text class="l" x="1411" y="418">Recycling Of Bile</text><text class="l" x="1414" y="443">Acids And Salts</text></g>
<g id="in-fatty"><circle class="g" cx="1409" cy="465" r="12"/><text class="l" x="1407" y="464">Fatty</text><text class="l" x="1407" y="487">Acids</text></g>
<g id="in-chylrem"><circle class="g" cx="1449" cy="460" r="13"/><text class="l" x="1491" y="464">Chylomicron</text><text class="l" x="1490" y="487">Remodeling</text></g>
<g id="in-chylasm"><circle class="g" cx="1055" cy="525" r="11.5"/><text class="l" x="1050" y="518">Chylomicron</text><text class="l" x="1052" y="540">Assembly</text></g>
<g id="in-mmp"><circle class="g" cx="1190" cy="570" r="11"/><text class="l" x="1176" y="573">Activation</text><text class="l" x="1180" y="597">Of MMP</text></g>
<g id="in-neut"><circle class="r" cx="1248" cy="547" r="31"/><text class="l" x="1244" y="530">Neutrophil</text><text class="l" x="1246" y="553">Degranulation</text></g>
<g id="in-urea"><circle class="g" cx="1352" cy="543" r="12"/><text class="l" x="1385" y="552">Urea Cycle</text></g>
<g id="in-blood"><circle class="g" cx="1401" cy="603" r="12"/><text class="l" x="1411" y="604">Blood Group</text><text class="l" x="1414" y="627">Systems Biosynthesis</text></g>
<g id="in-comp"><circle class="g" cx="1154" cy="667" r="40"/><text class="l" x="1149" y="657">Complement</text><text class="l" x="1149" y="682">Cascade</text></g>
<g id="in-neuro"><circle class="g" cx="1448" cy="663" r="12"/><text class="l" x="1453" y="687">Neurotoxicity Of</text><text class="l" x="1456" y="711">Clostridium Toxins</text></g>
</g>
<g id="southafrica-nodes">
<g id="sa-n1"><circle class="g" cx="353" cy="1079" r="10.5"/></g>
<g id="sa-n2"><circle class="g" cx="195" cy="1132" r="10.5"/></g>
<g id="sa-n3"><circle class="g" cx="110" cy="1164" r="10.5"/></g>
<g id="sa-n4"><circle class="g" cx="291" cy="1169" r="10.5"/></g>
<g id="sa-n5"><circle class="g" cx="412" cy="1164" r="10.5"/></g>
<g id="sa-n6"><circle class="g" cx="530" cy="1146" r="10.5"/></g>
<g id="sa-n7"><circle class="g" cx="178" cy="1251" r="10.5"/></g>
<g id="sa-n8"><circle class="g" cx="512" cy="1245" r="10.5"/></g>
<g id="sa-n9"><circle class="g" cx="100" cy="1278" r="10.5"/></g>
<g id="sa-n10"><circle class="g" cx="564" cy="1318" r="10.5"/></g>
<g id="sa-n11"><circle class="g" cx="23" cy="1340" r="10.5"/></g>
<g id="sa-n12"><circle class="g" cx="122" cy="1374" r="10.5"/></g>
<g id="sa-n13"><circle class="g" cx="208" cy="1395" r="10.5"/></g>
<g id="sa-n14"><circle class="g" cx="394" cy="1419" r="10.5"/></g>
<g id="sa-n15"><circle class="g" cx="659" cy="1457" r="14.5"/></g>
<g id="sa-n16"><circle class="g" cx="502" cy="1513" r="14.5"/></g>
<g id="sa-n17"><circle class="g" cx="149" cy="1538" r="14"/></g>
<g id="sa-n18"><circle class="g" cx="304" cy="1542" r="11"/></g>
<g id="sa-n20"><circle class="g" cx="473" cy="1545" r="14"/></g>
<g id="sa-n21"><circle class="g" cx="629" cy="1540" r="14.5"/></g>
<g id="sa-n22"><circle class="g" cx="717" cy="1538" r="15"/></g>
<g id="sa-n23"><circle class="g" cx="239" cy="1560" r="14"/></g>
<g id="sa-n25"><circle class="g" cx="330" cy="1602" r="14"/></g>
<g id="sa-n26"><circle class="g" cx="811" cy="1602" r="10.5"/></g>
<g id="sa-n27"><circle class="g" cx="164" cy="1649" r="15"/></g>
<g id="sa-n28"><circle class="g" cx="487" cy="1647" r="12"/></g>
<g id="sa-n30"><circle class="g" cx="653" cy="1751" r="10.5"/></g>
<g id="sa-n31"><circle class="g" cx="333" cy="1834" r="10.5"/></g>
<g id="sa-n32"><circle class="g" cx="496" cy="1867" r="10.5"/></g>
<g id="sa-comp"><circle class="g" cx="348" cy="1303" r="40"/><text class="l" x="355" y="1308">Complement Cascade</text></g>
<g id="sa-ifnab"><circle class="g" cx="376" cy="1458" r="27.5"/><text class="l" x="371" y="1454">IFN <tspan class="gk">α/β</tspan></text><text class="l" x="371" y="1477">Signaling</text></g>
<g id="sa-creat"><circle class="g" cx="366" cy="1537" r="14"/><text class="l" x="372" y="1534">Creatine Metabolism</text></g>
<g id="sa-steroid"><circle class="g" cx="417" cy="1572" r="14"/><text class="l" x="423" y="1575">Metabolism OfSteroid Hormones</text></g>
<g id="sa-ifns"><circle class="r" cx="523" cy="1598" r="26"/><text class="l" x="530" y="1603">IFN Signaling</text></g>
<g id="sa-gaba"><circle class="g" cx="659" cy="1635" r="14"/><text class="l" x="684" y="1641">Gaba B Receptor Activation</text></g>
<g id="sa-neut"><circle class="r" cx="442" cy="1739" r="26.5"/><text class="l" x="460" y="1750">Neutrophil Degranulation</text></g>
</g>
<g id="romania-nodes">
<g id="ro-n1"><circle class="g" cx="1267" cy="1067" r="10"/></g>
<g id="ro-n2"><circle class="g" cx="1246" cy="1088" r="10"/></g>
<g id="ro-n3"><circle class="g" cx="1228" cy="1098" r="10"/></g>
<g id="ro-n4"><circle class="g" cx="1090" cy="1103" r="10"/></g>
<g id="ro-n5"><circle class="g" cx="1062" cy="1122" r="10"/></g>
<g id="ro-n6"><circle class="g" cx="1219" cy="1122" r="10"/></g>
<g id="ro-n7"><circle class="g" cx="1269" cy="1115" r="10"/></g>
<g id="ro-n8"><circle class="g" cx="1113" cy="1127" r="10"/></g>
<g id="ro-n9"><circle class="g" cx="1142" cy="1136" r="10"/></g>
<g id="ro-n10"><circle class="g" cx="1183" cy="1139" r="10"/></g>
<g id="ro-n11"><circle class="g" cx="1313" cy="1137" r="10"/></g>
<g id="ro-n12"><circle class="g" cx="1024" cy="1162" r="10"/></g>
<g id="ro-n13"><circle class="g" cx="1072" cy="1157" r="10"/></g>
<g id="ro-n14"><circle class="g" cx="1125" cy="1153" r="10"/></g>
<g id="ro-n15"><circle class="g" cx="1209" cy="1158" r="10"/></g>
<g id="ro-n16"><circle class="g" cx="1252" cy="1149" r="10"/></g>
<g id="ro-n17"><circle class="g" cx="1090" cy="1172" r="10"/></g>
<g id="ro-n18"><circle class="g" cx="1235" cy="1169" r="10"/></g>
<g id="ro-n19"><circle class="b" cx="1306" cy="1168" r="10"/></g>
<g id="ro-n20"><circle class="r" cx="1263" cy="1178" r="10"/></g>
<g id="ro-n21"><circle class="b" cx="1135" cy="1176" r="10"/></g>
<g id="ro-n22"><circle class="g" cx="1045" cy="1184" r="10"/></g>
<g id="ro-n23"><circle class="g" cx="1177" cy="1177" r="10"/></g>
<g id="ro-n24"><circle class="g" cx="1202" cy="1183" r="10"/></g>
<g id="ro-n25"><circle class="g" cx="1113" cy="1190" r="10"/></g>
<g id="ro-n26"><circle class="b" cx="1147" cy="1202" r="10"/></g>
<g id="ro-n27"><circle class="g" cx="1063" cy="1202" r="10"/></g>
<g id="ro-n28"><circle class="g" cx="1079" cy="1205" r="10"/></g>
<g id="ro-n29"><circle class="g" cx="1219" cy="1196" r="10"/></g>
<g id="ro-n30"><circle class="g" cx="1294" cy="1203" r="10"/></g>
<g id="ro-n31"><circle class="g" cx="1318" cy="1205" r="10"/></g>
<g id="ro-n32"><circle class="g" cx="1257" cy="1212" r="10"/></g>
<g id="ro-n33"><circle class="g" cx="1132" cy="1215" r="10"/></g>
<g id="ro-n34"><circle class="g" cx="1166" cy="1214" r="10"/></g>
<g id="ro-n35"><circle class="g" cx="1195" cy="1210" r="10"/></g>
<g id="ro-n36"><circle class="g" cx="1087" cy="1230" r="10"/></g>
<g id="ro-n37"><circle class="g" cx="1102" cy="1233" r="10"/></g>
<g id="ro-n38"><circle class="g" cx="1059" cy="1236" r="10"/></g>
<g id="ro-n39"><circle class="g" cx="1124" cy="1238" r="10"/></g>
<g id="ro-n40"><circle class="g" cx="1164" cy="1242" r="10"/></g>
<g id="ro-n41"><circle class="g" cx="1189" cy="1236" r="10"/></g>
<g id="ro-n42"><circle class="g" cx="1240" cy="1230" r="10"/></g>
<g id="ro-n43"><circle class="g" cx="1287" cy="1225" r="10"/></g>
<g id="ro-n44"><circle class="b" cx="1008" cy="1260" r="10"/></g>
<g id="ro-n45"><circle class="g" cx="1036" cy="1269" r="10"/></g>
<g id="ro-n46"><circle class="g" cx="1059" cy="1268" r="10"/></g>
<g id="ro-n47"><circle class="g" cx="1090" cy="1267" r="10"/></g>
<g id="ro-n48"><circle class="g" cx="1175" cy="1262" r="10"/></g>
<g id="ro-n49"><circle class="g" cx="1244" cy="1263" r="10"/></g>
<g id="ro-n50"><circle class="g" cx="1272" cy="1261" r="10"/></g>
<g id="ro-n51"><circle class="g" cx="1301" cy="1255" r="10"/></g>
<g id="ro-n52"><circle class="g" cx="1320" cy="1250" r="10"/></g>
<g id="ro-n53"><circle class="g" cx="1338" cy="1238" r="10"/></g>
<g id="ro-n55"><circle class="b" cx="1268" cy="1288" r="10"/></g>
<g id="ro-n56"><circle class="g" cx="1312" cy="1275" r="10"/></g>
<g id="ro-n57"><circle class="g" cx="1341" cy="1282" r="10"/></g>
<g id="ro-n58"><circle class="g" cx="1073" cy="1292" r="10"/></g>
<g id="ro-n59"><circle class="g" cx="1011" cy="1305" r="10"/></g>
<g id="ro-n61"><circle class="g" cx="1114" cy="1313" r="10"/></g>
<g id="ro-n62"><circle class="g" cx="1303" cy="1303" r="10"/></g>
<g id="ro-n63"><circle class="b" cx="1031" cy="1325" r="10"/></g>
<g id="ro-n64"><circle class="g" cx="1052" cy="1317" r="10"/></g>
<g id="ro-n65"><circle class="g" cx="1079" cy="1324" r="10"/></g>
<g id="ro-n66"><circle class="g" cx="1328" cy="1319" r="10"/></g>
<g id="ro-n67"><circle class="g" cx="1288" cy="1332" r="10"/></g>
<g id="ro-n68"><circle class="g" cx="970" cy="1348" r="10"/></g>
<g id="ro-n69"><circle class="g" cx="997" cy="1343" r="10"/></g>
<g id="ro-n70"><circle class="b" cx="1041" cy="1351" r="10"/></g>
<g id="ro-n72"><circle class="g" cx="1013" cy="1362" r="10"/></g>
<g id="ro-n73"><circle class="g" cx="1271" cy="1358" r="10"/></g>
<g id="ro-n74"><circle class="g" cx="1311" cy="1353" r="10"/></g>
<g id="ro-n75"><circle class="g" cx="1336" cy="1359" r="10"/></g>
<g id="ro-n76"><circle class="g" cx="1073" cy="1385" r="10"/></g>
<g id="ro-n77"><circle class="r" cx="1029" cy="1390" r="10"/></g>
<g id="ro-n78"><circle class="g" cx="1051" cy="1397" r="10"/></g>
<g id="ro-n79"><circle class="g" cx="1291" cy="1381" r="10"/></g>
<g id="ro-n80"><circle class="g" cx="1313" cy="1400" r="10"/></g>
<g id="ro-n81"><circle class="g" cx="1282" cy="1409" r="10"/></g>
<g id="ro-n82"><circle class="g" cx="1353" cy="1388" r="10"/></g>
<g id="ro-n83"><circle class="g" cx="1000" cy="1408" r="10"/></g>
<g id="ro-n84"><circle class="g" cx="984" cy="1417" r="10"/></g>
<g id="ro-n85"><circle class="g" cx="964" cy="1428" r="10"/></g>
<g id="ro-n86"><circle class="g" cx="1022" cy="1428" r="10"/></g>
<g id="ro-n87"><circle class="g" cx="1047" cy="1430" r="10"/></g>
<g id="ro-n88"><circle class="g" cx="1064" cy="1430" r="10"/></g>
<g id="ro-n89"><circle class="b" cx="1083" cy="1430" r="10"/></g>
<g id="ro-n91"><circle class="g" cx="1302" cy="1440" r="10"/></g>
<g id="ro-n92"><circle class="g" cx="1334" cy="1434" r="10"/></g>
<g id="ro-n93"><circle class="g" cx="1010" cy="1471" r="10"/></g>
<g id="ro-n94"><circle class="g" cx="1038" cy="1467" r="10"/></g>
<g id="ro-n95"><circle class="g" cx="1068" cy="1469" r="10"/></g>
<g id="ro-n96"><circle class="g" cx="1270" cy="1481" r="10"/></g>
<g id="ro-n97"><circle class="g" cx="1290" cy="1487" r="10"/></g>
<g id="ro-n98"><circle class="r" cx="1316" cy="1478" r="10"/></g>
<g id="ro-n99"><circle class="g" cx="1332" cy="1503" r="10"/></g>
<g id="ro-n100"><circle class="g" cx="997" cy="1498" r="10"/></g>
<g id="ro-n101"><circle class="g" cx="1029" cy="1503" r="10"/></g>
<g id="ro-n102"><circle class="g" cx="1053" cy="1495" r="10"/></g>
<g id="ro-n103"><circle class="g" cx="1074" cy="1497" r="10"/></g>
<g id="ro-n104"><circle class="g" cx="1089" cy="1490" r="10"/></g>
<g id="ro-n105"><circle class="g" cx="1225" cy="1521" r="10"/></g>
<g id="ro-n106"><circle class="b" cx="1253" cy="1529" r="10"/></g>
<g id="ro-n107"><circle class="g" cx="1130" cy="1531" r="10"/></g>
<g id="ro-n108"><circle class="b" cx="1272" cy="1546" r="10"/></g>
<g id="ro-n109"><circle class="g" cx="1305" cy="1527" r="10"/></g>
<g id="ro-n110"><circle class="g" cx="1013" cy="1538" r="10"/></g>
<g id="ro-n111"><circle class="g" cx="1105" cy="1542" r="10"/></g>
<g id="ro-n112"><circle class="g" cx="1071" cy="1548" r="10"/></g>
<g id="ro-n113"><circle class="g" cx="1051" cy="1555" r="10"/></g>
<g id="ro-n114"><circle class="g" cx="1227" cy="1549" r="10"/></g>
<g id="ro-n115"><circle class="b" cx="1125" cy="1565" r="10"/></g>
<g id="ro-n116"><circle class="g" cx="1014" cy="1582" r="10"/></g>
<g id="ro-n117"><circle class="g" cx="1037" cy="1583" r="10"/></g>
<g id="ro-n118"><circle class="g" cx="1068" cy="1579" r="10"/></g>
<g id="ro-n119"><circle class="g" cx="1094" cy="1577" r="10"/></g>
<g id="ro-n120"><circle class="g" cx="1168" cy="1573" r="10"/></g>
<g id="ro-n121"><circle class="g" cx="1204" cy="1575" r="10"/></g>
<g id="ro-n122"><circle class="g" cx="1258" cy="1576" r="10"/></g>
<g id="ro-n123"><circle class="g" cx="1298" cy="1572" r="10"/></g>
<g id="ro-n124"><circle class="g" cx="1322" cy="1575" r="10"/></g>
<g id="ro-n126"><circle class="g" cx="1160" cy="1596" r="10"/></g>
<g id="ro-n127"><circle class="g" cx="1228" cy="1587" r="10"/></g>
<g id="ro-n128"><circle class="g" cx="1120" cy="1603" r="10"/></g>
<g id="ro-n129"><circle class="g" cx="1192" cy="1608" r="10"/></g>
<g id="ro-n130"><circle class="g" cx="1033" cy="1612" r="10"/></g>
<g id="ro-n131"><circle class="g" cx="1054" cy="1616" r="10"/></g>
<g id="ro-n132"><circle class="g" cx="1086" cy="1613" r="10"/></g>
<g id="ro-n133"><circle class="g" cx="1222" cy="1617" r="10"/></g>
<g id="ro-n134"><circle class="g" cx="1263" cy="1613" r="10"/></g>
<g id="ro-n135"><circle class="g" cx="1175" cy="1621" r="10"/></g>
<g id="ro-n136"><circle class="g" cx="1152" cy="1626" r="10"/></g>
<g id="ro-n137"><circle class="g" cx="1199" cy="1630" r="10"/></g>
<g id="ro-n138"><circle class="r" cx="1125" cy="1632" r="10"/></g>
<g id="ro-n139"><circle class="g" cx="1235" cy="1643" r="10"/></g>
<g id="ro-n141"><circle class="g" cx="1183" cy="1646" r="10"/></g>
<g id="ro-n142"><circle class="g" cx="1016" cy="1646" r="10"/></g>
<g id="ro-n143"><circle class="g" cx="1110" cy="1658" r="10"/></g>
<g id="ro-n144"><circle class="b" cx="1139" cy="1665" r="10"/></g>
<g id="ro-n145"><circle class="g" cx="1207" cy="1658" r="10"/></g>
<g id="ro-n146"><circle class="g" cx="1179" cy="1682" r="10"/></g>
<g id="ro-n147"><circle class="b" cx="1227" cy="1692" r="10"/></g>
<g id="ro-n148"><circle class="g" cx="1126" cy="1704" r="10"/></g>
<g id="ro-n149"><circle class="g" cx="1162" cy="1701" r="10"/></g>
<g id="ro-n150"><circle class="b" cx="1189" cy="1708" r="10"/></g>
<g id="ro-n151"><circle class="g" cx="1165" cy="1736" r="10"/></g>
<g id="ro-q1"><circle class="g" cx="1561" cy="1200" r="10"/></g>
<g id="ro-q2"><circle class="r" cx="1544" cy="1233" r="10"/></g>
<g id="ro-q3"><circle class="r" cx="1579" cy="1233" r="10"/></g>
<g id="ro-q4"><circle class="g" cx="1478" cy="1262" r="10"/></g>
<g id="ro-q5"><circle class="g" cx="1508" cy="1272" r="10"/></g>
<g id="ro-q6"><circle class="g" cx="1533" cy="1283" r="10"/></g>
<g id="ro-q7"><circle class="g" cx="1578" cy="1292" r="10"/></g>
<g id="ro-q8"><circle class="g" cx="1611" cy="1280" r="10"/></g>
<g id="ro-q9"><circle class="g" cx="1645" cy="1287" r="10"/></g>
<g id="ro-q10"><circle class="r" cx="1477" cy="1303" r="10"/></g>
<g id="ro-q12"><circle class="g" cx="1489" cy="1344" r="10"/></g>
<g id="ro-q13"><circle class="g" cx="1610" cy="1365" r="10"/></g>
<g id="ro-q14"><circle class="g" cx="1471" cy="1384" r="10"/></g>
<g id="ro-q16"><circle class="g" cx="1424" cy="1469" r="10"/></g>
<g id="ro-q17"><circle class="g" cx="1444" cy="1499" r="10"/></g>
<g id="ro-q18"><circle class="g" cx="1652" cy="1508" r="10"/></g>
<g id="ro-q19"><circle class="g" cx="1514" cy="1527" r="10"/></g>
<g id="ro-q20"><circle class="g" cx="1534" cy="1529" r="10"/></g>
<g id="ro-q22"><circle class="g" cx="1551" cy="1544" r="10"/></g>
<g id="ro-q23"><circle class="g" cx="1616" cy="1547" r="10"/></g>
<g id="ro-q24"><circle class="g" cx="1488" cy="1562" r="10"/></g>
<g id="ro-q25"><circle class="g" cx="1478" cy="1565" r="10"/></g>
<g id="ro-q26"><circle class="g" cx="1467" cy="1575" r="10"/></g>
<g id="ro-q27"><circle class="g" cx="1547" cy="1561" r="10"/></g>
<g id="ro-q28"><circle class="g" cx="1565" cy="1564" r="10"/></g>
<g id="ro-q29"><circle class="g" cx="1578" cy="1579" r="10"/></g>
<g id="ro-q31"><circle class="g" cx="1663" cy="1603" r="10"/></g>
<g id="ro-q32"><circle class="g" cx="1688" cy="1611" r="10"/></g>
<g id="ro-q33"><circle class="g" cx="1438" cy="1611" r="10"/></g>
<g id="ro-q34"><circle class="g" cx="1412" cy="1624" r="10"/></g>
<g id="ro-q35"><circle class="g" cx="1528" cy="1628" r="10"/></g>
<g id="ro-q36"><circle class="g" cx="1578" cy="1643" r="10"/></g>
<g id="ro-q38"><circle class="g" cx="1364" cy="1613" r="10"/></g>
<g id="ro-q39"><circle class="g" cx="1367" cy="1653" r="10"/></g>
<g id="ro-q40"><circle class="g" cx="1436" cy="1725" r="10"/></g>
<g id="ro-q41"><circle class="g" cx="1487" cy="1738" r="10"/></g>
<g id="ro-q42"><circle class="g" cx="1526" cy="1761" r="10"/></g>
<g id="ro-q43"><circle class="g" cx="1599" cy="1790" r="10"/></g>
<g id="ro-tp53"><circle class="b" cx="1363" cy="1244" r="10"/><text class="l" x="1368" y="1241">Tp53 Regulates Transcription</text><text class="l" x="1368" y="1264">Of Cell Death Genes</text></g>
<g id="ro-vesicle"><circle class="b" cx="1097" cy="1300" r="10"/><text class="l" x="1122" y="1305">Vesicle Mediated Transport</text></g>
<g id="ro-glut"><circle class="b" cx="1063" cy="1350" r="10"/><text class="l" x="1057" y="1354">Glutamate Neurotransmitter</text><text class="l" x="1059" y="1377">Release Cycle</text></g>
<g id="ro-amp"><circle class="g" cx="1183" cy="1397" r="36"/><text class="l" x="1190" y="1392">Antimicrobial</text><text class="l" x="1189" y="1414">Peptides</text></g>
<g id="ro-tlr"><circle class="b" cx="1271" cy="1437" r="10"/><text class="l" x="1273" y="1438">TLR1:TLR2</text><text class="l" x="1273" y="1462">Cascade</text></g>
<g id="ro-protmeth"><circle class="b" cx="1142" cy="1589" r="10"/><text class="l" x="1152" y="1595">Protein Methylation</text></g>
<g id="ro-hexose"><circle class="g" cx="1299" cy="1648" r="10"/><text class="l" x="1308" y="1642">Cellular Hexose</text><text class="l" x="1312" y="1665">Transport</text></g>
<g id="ro-phospho"><circle class="r" cx="1630" cy="1328" r="10"/><text class="l" x="1647" y="1323">Role Of Phospholipids</text><text class="l" x="1646" y="1347">In Phagocytosis</text></g>
<g id="ro-comp"><circle class="r" cx="1545" cy="1372" r="15"/><text class="l" x="1548" y="1378">Complement Cascade</text></g>
<g id="ro-initial"><circle class="r" cx="1614" cy="1412" r="10"/><text class="l" x="1619" y="1404">Initial Triggering</text><text class="l" x="1619" y="1428">Of Complement</text></g>
<g id="ro-ifns"><circle class="g" cx="1535" cy="1443" r="12"/><text class="l" x="1542" y="1450">IFN Signaling</text></g>
<g id="ro-creat"><circle class="g" cx="1505" cy="1532" r="10"/><text class="l" x="1505" y="1538">Creatine Metabolism</text></g>
<g id="ro-chyl"><circle class="g" cx="1597" cy="1598" r="10"/><text class="l" x="1605" y="1598">Chylomicron Assembly</text></g>
<g id="ro-ifnab"><circle class="g" cx="1473" cy="1629" r="13"/><text class="l" x="1473" y="1631">IFN <tspan class="gk">α/β</tspan></text><text class="l" x="1473" y="1654">Signaling</text></g>
<g id="ro-gaba"><circle class="g" cx="1625" cy="1637" r="10"/><text class="l" x="1672" y="1646">Gaba B Receptor</text><text class="l" x="1672" y="1670">Activation</text></g>
<g id="ro-neut"><circle class="g" cx="1565" cy="1723" r="14"/><text class="l" x="1565" y="1720">Neutrophil</text><text class="l" x="1565" y="1743">Degranulation</text></g>
</g>
<g id="legend">
<text class="lg" x="1877" y="867" text-anchor="middle">Correlations</text>
<line class="lp" x1="1805" y1="887" x2="1859" y2="887"/>
<text class="lg" x="1870" y="895">Positive</text>
<line class="ln" x1="1805" y1="913" x2="1859" y2="913"/>
<text class="lg" x="1870" y="921">Negative</text>
<text class="lg" x="1864" y="1004" text-anchor="middle">Pathways</text>
<text class="lg" x="1864" y="1030" text-anchor="middle">Fold-Change</text>
<line class="lp" x1="1788" y1="1049" x2="1843" y2="1049"/>
<text class="lg" x="1857" y="1057">Upregulated</text>
<line class="ln" x1="1788" y1="1075" x2="1843" y2="1075"/>
<text class="lg" x="1857" y="1083">Downregulated</text>
</g>
</svg>
